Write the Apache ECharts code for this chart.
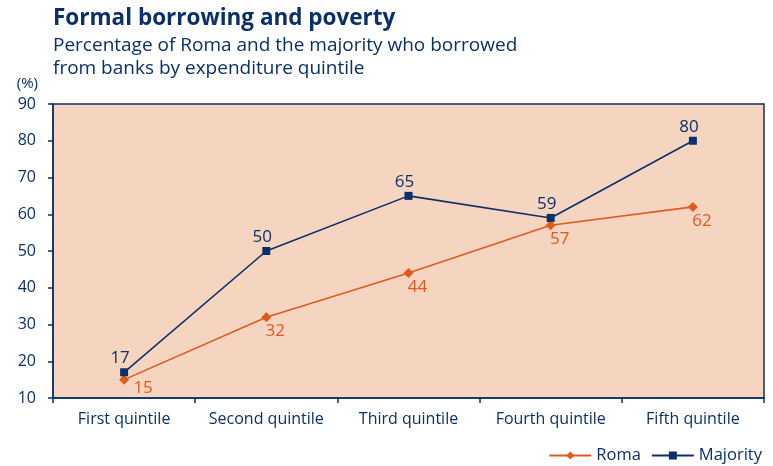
<!DOCTYPE html>
<html>
<head>
<meta charset="utf-8">
<script src="https://cdn.jsdelivr.net/npm/echarts@6/dist/echarts.min.js"></script>
<style>
  html, body { margin: 0; padding: 0; background: #ffffff; }
  #chart { width: 773px; height: 466px; }
</style>
</head>
<body>
<div id="chart"></div>
<script>
// Share of each group borrowing from banks, by expenditure quintile
const quintiles = ['First quintile', 'Second quintile', 'Third quintile', 'Fourth quintile', 'Fifth quintile'];
const roma = [15, 32, 44, 57, 62];
const majority = [17, 50, 65, 59, 80];
const yTicks = [10, 20, 30, 40, 50, 60, 70, 80, 90];

const NAVY = '#0b2f6b';
const ORANGE = '#e05a1f';
const FONT = '"Open Sans", "Noto Sans", sans-serif';

// Roma labels sit below-right of each marker; the first one is nudged clear of the Majority marker
const romaData = roma.map((v, i) => i === 0
  ? { value: v, label: { offset: [19, 9] } }
  : v);

const chart = echarts.init(document.getElementById('chart'));
chart.setOption({
  animation: false,
  textStyle: { fontFamily: FONT },
  title: {
    text: 'Formal borrowing and poverty',
    subtext: 'Percentage of Roma and the majority who borrowed\nfrom banks by expenditure quintile',
    left: 48,
    top: 2,
    itemGap: 4,
    textStyle: { color: NAVY, fontSize: 22.5, fontWeight: 'bold', fontFamily: FONT },
    subtextStyle: { color: NAVY, fontSize: 19, lineHeight: 23, fontFamily: FONT }
  },
  legend: {
    right: 6,
    top: 442,
    itemWidth: 42,
    itemHeight: 10,
    itemGap: 10,
    textStyle: { color: NAVY, fontSize: 16.5, fontFamily: FONT },
    data: ['Roma', 'Majority']
  },
  grid: {
    left: 53,
    right: 9,
    top: 104,
    bottom: 68,
    show: true,
    backgroundColor: '#f5d5c0',
    borderColor: NAVY,
    borderWidth: 1.5
  },
  xAxis: {
    type: 'category',
    data: quintiles,
    boundaryGap: true,
    axisLine: { lineStyle: { color: NAVY, width: 1.5 } },
    axisTick: { show: true, length: 5, interval: 0, lineStyle: { color: NAVY, width: 1.5 } },
    axisLabel: { color: NAVY, fontSize: 16, margin: 13, interval: 0, hideOverlap: false, fontFamily: FONT },
    splitLine: { show: false }
  },
  yAxis: {
    type: 'value',
    name: '(%)',
    nameLocation: 'end',
    nameGap: 13,
    nameTextStyle: { color: NAVY, fontSize: 15, align: 'right', padding: [0, 15, 0, 0], fontFamily: FONT },
    min: yTicks[0],
    max: yTicks[yTicks.length - 1],
    interval: 10,
    axisLine: { show: true, lineStyle: { color: NAVY, width: 1.5 } },
    axisTick: { show: true, length: 5, lineStyle: { color: NAVY, width: 1.5 } },
    axisLabel: { color: NAVY, fontSize: 16, margin: 17, fontFamily: FONT },
    splitLine: { show: false }
  },
  series: [
    {
      name: 'Roma',
      type: 'line',
      data: romaData,
      color: ORANGE,
      symbol: 'diamond',
      symbolSize: 10,
      lineStyle: { color: ORANGE, width: 1.6 },
      itemStyle: { color: ORANGE },
      label: {
        show: true,
        position: 'inside',
        offset: [9, 14],
        color: ORANGE,
        fontSize: 17,
        fontFamily: FONT
      },
      z: 2
    },
    {
      name: 'Majority',
      type: 'line',
      data: majority,
      color: NAVY,
      symbol: 'rect',
      symbolSize: 8,
      lineStyle: { color: NAVY, width: 1.6 },
      itemStyle: { color: NAVY },
      label: {
        show: true,
        position: 'inside',
        offset: [-4, -14],
        color: NAVY,
        fontSize: 17,
        fontFamily: FONT
      },
      z: 3
    }
  ]
});
</script>
</body>
</html>
